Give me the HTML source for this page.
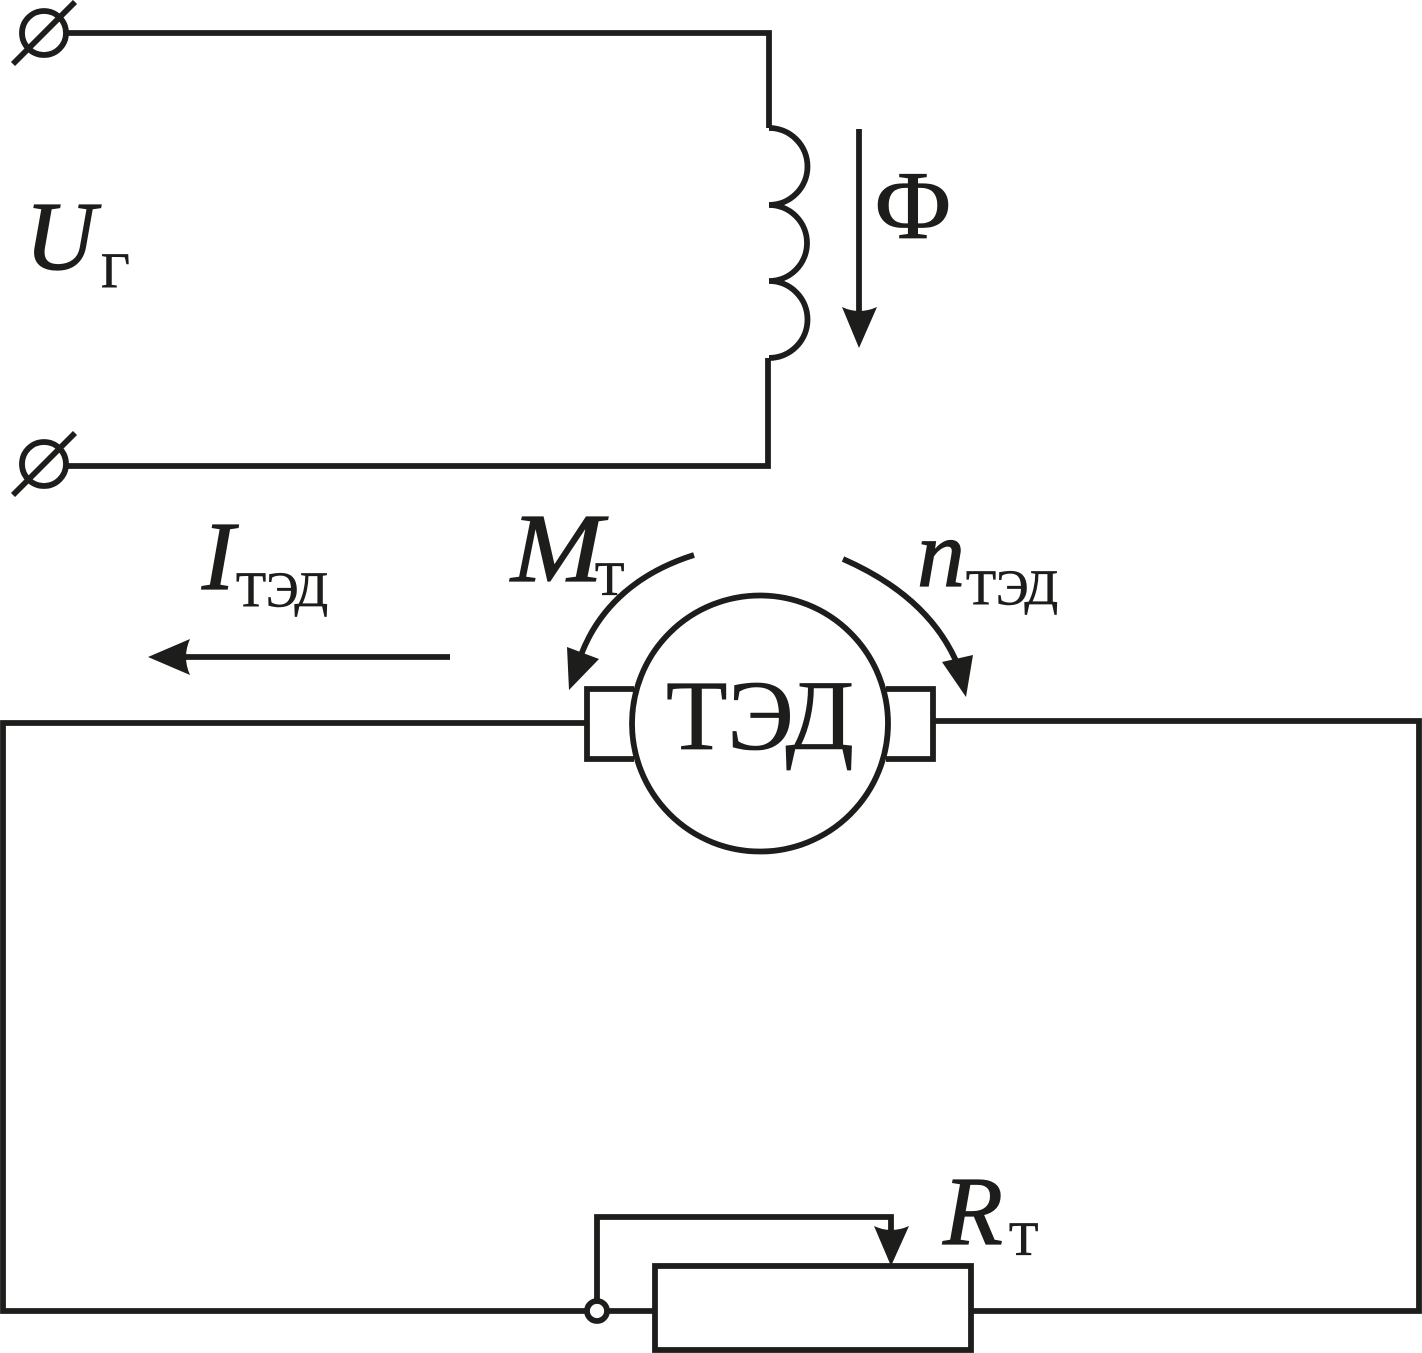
<!DOCTYPE html>
<html><head><meta charset="utf-8">
<style>html,body{margin:0;padding:0;background:#fff}svg{display:block}
text{font-family:"Liberation Serif",serif;fill:#1d1d1b;stroke:#1d1d1b;stroke-width:.8}
.i{font-style:italic;stroke-width:1.2}</style></head>
<body>
<svg width="1422" height="1353" viewBox="0 0 1422 1353" xmlns="http://www.w3.org/2000/svg">
<g fill="none" stroke="#1d1d1b" stroke-width="5.8">
<circle cx="44" cy="33" r="22"/>
<line x1="13" y1="64" x2="75" y2="2"/>
<circle cx="44" cy="464" r="22"/>
<line x1="13" y1="495" x2="75" y2="433"/>
<path d="M67 33H769V128"/>
<path d="M67 466H768V358"/>
<path d="M769 128A38 38 0 0 1 769 205A38 38 0 0 1 769 281A38 38 0 0 1 769 358"/>
<line x1="859" y1="129" x2="859" y2="320"/>
<line x1="450" y1="657" x2="180" y2="657"/>
<path d="M694 555C640 572 600 605 581 655"/>
<path d="M843 559C900 584 940 620 959 668"/>
<circle cx="760" cy="723.5" r="128"/>
<path d="M634 689H587V759H634"/>
<path d="M886 689H933V759H886"/>
<path d="M587 723H3V1311H587"/>
<path d="M933 721H1419V1311H971"/>
<rect x="655" y="1266" width="316" height="84"/>
<line x1="607" y1="1311" x2="655" y2="1311"/>
<path d="M597 1301V1217H891V1235"/>
<circle cx="597" cy="1311" r="10"/>
</g>
<g fill="#1d1d1b" stroke="none">
<path d="M842 307Q859 315 877 307L859 348Z"/>
<path d="M190 639Q182 657 190 675L148 657Z"/>
<path d="M567 647L599 659L569 690Z"/>
<path d="M942 662L973 655L966 697Z"/>
<path d="M874 1226Q891 1234 909 1226L891 1266Z"/>
</g>
<text x="875" y="238" font-size="97" textLength="76" lengthAdjust="spacingAndGlyphs">Φ</text>
<text class="i" x="25" y="269" font-size="98">U</text>
<text x="101" y="287" font-size="50">Г</text>
<text class="i" x="202" y="589" font-size="98">I</text>
<text x="236" y="606" font-size="50" textLength="92" lengthAdjust="spacingAndGlyphs">ТЭД</text>
<text class="i" x="511" y="581" font-size="98" textLength="92" lengthAdjust="spacingAndGlyphs">M</text>
<text x="595" y="595" font-size="48">Т</text>
<text class="i" x="917" y="586" font-size="96">n</text>
<text x="966" y="604" font-size="50" textLength="92" lengthAdjust="spacingAndGlyphs">ТЭД</text>
<text x="666" y="749" font-size="100" textLength="188" lengthAdjust="spacingAndGlyphs">ТЭД</text>
<text class="i" x="943" y="1244" font-size="98">R</text>
<text x="1009" y="1255" font-size="48">Т</text>
</svg>
</body></html>
